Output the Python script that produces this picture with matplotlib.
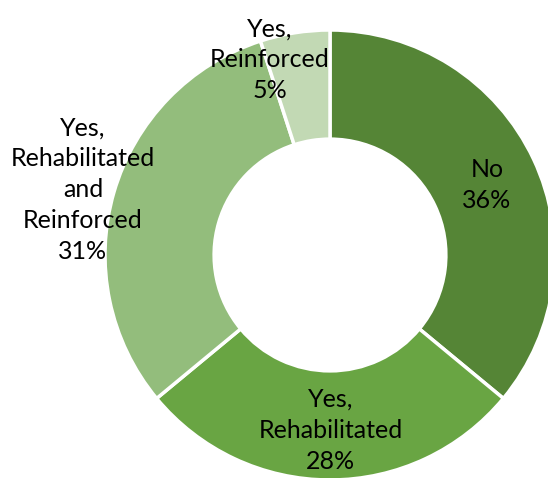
import matplotlib.pyplot as plt

categories = ['No', 'Yes,\nRehabilitated', 'Yes,\nRehabilitated\nand\nReinforced', 'Yes,\nReinforced']
shares = [36, 28, 31, 5]
colors = ['#558536', '#69a543', '#93bd7c', '#c2d9b4']
# label placement (x, y) in data units, center of donut at (0, 0), radius 1
label_pos = [(0.698, 0.311), (0.004, -0.778), (-1.098, 0.289), (-0.267, 0.867)]

fig = plt.figure(figsize=(5.48, 4.78), dpi=100)
ax = fig.add_axes([0, 0, 1, 1])

wedges, _ = ax.pie(shares, colors=colors, startangle=90, counterclock=False,
                   radius=1, wedgeprops=dict(width=0.485, edgecolor='white', linewidth=2.5))

for cat, val, (x, y) in zip(categories, shares, label_pos):
    ax.text(x, y, f'{cat}\n{val}%', ha='center', va='center', fontsize=18,
            family='Lato', linespacing=1.42, color='black')

ax.set_aspect('auto')
ax.set_xlim(-330 / 225, (548 - 330) / 225)
ax.set_ylim(-(478 - 255) / 225, 255 / 225)
ax.axis('off')

fig.savefig('out.png', dpi=100)
